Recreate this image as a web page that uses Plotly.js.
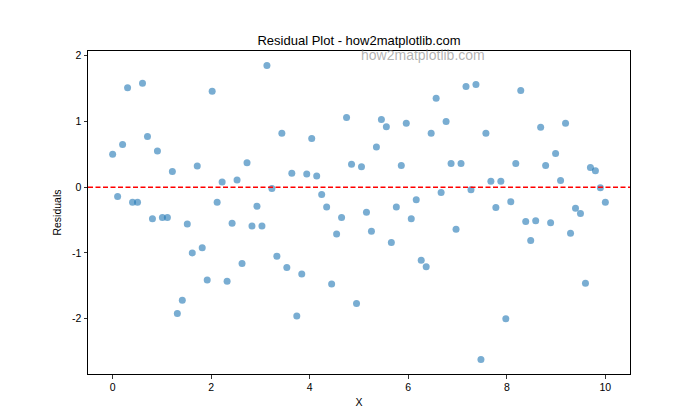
<!DOCTYPE html>
<html>
<head>
<meta charset="utf-8">
<script src="https://cdn.plot.ly/plotly-3.0.1.min.js"></script>
<style>html,body{margin:0;padding:0;background:#fff}#chart{width:700px;height:420px}</style>
</head>
<body>
<div id="chart"></div>
<script>
// X values: 100 evenly spaced sample positions from 0 to 10
const xStart = 0, xEnd = 10, nPoints = 100;
const xValues = Array.from({length: nPoints}, (_, i) => xStart + i * (xEnd - xStart) / (nPoints - 1));

// Residuals
const residuals = [
  0.50, -0.14, 0.65, 1.51, -0.23, -0.23, 1.58, 0.77, -0.48, 0.55,
  -0.46, -0.46, 0.24, -1.92, -1.72, -0.56, -1.00, 0.32, -0.92, -1.41,
  1.46, -0.23, 0.08, -1.43, -0.55, 0.11, -1.16, 0.37, -0.59, -0.29,
  -0.59, 1.85, -0.02, -1.05, 0.82, -1.22, 0.21, -1.96, -1.32, 0.20,
  0.74, 0.17, -0.11, -0.30, -1.47, -0.71, -0.46, 1.06, 0.35, -1.77,
  0.31, -0.38, -0.67, 0.61, 1.03, 0.92, -0.84, -0.30, 0.33, 0.97,
  -0.48, -0.19, -1.11, -1.21, 0.82, 1.35, -0.08, 1.00, 0.36, -0.64,
  0.36, 1.53, -0.04, 1.56, -2.62, 0.82, 0.09, -0.31, 0.09, -2.00,
  -0.22, 0.36, 1.47, -0.52, -0.81, -0.51, 0.91, 0.33, -0.54, 0.51,
  0.10, 0.97, -0.70, -0.32, -0.40, -1.46, 0.30, 0.25, -0.01, -0.23
];

const xTicks = [0, 2, 4, 6, 8, 10];
const yTicks = [-2, -1, 0, 1, 2];
const titleText = "Residual Plot - how2matplotlib.com";
const watermarkText = "how2matplotlib.com";
const xLabel = "X";
const yLabel = "Residuals";
const refLineY = 0;

const FONT = "Liberation Sans, Arial, sans-serif";

const trace = {
  x: xValues,
  y: residuals,
  type: "scatter",
  mode: "markers",
  marker: {color: "#1f77b4", opacity: 0.6, size: 7, line: {width: 0}},
  hoverinfo: "skip",
  showlegend: false
};

const axisCommon = {
  showline: true, mirror: true, linecolor: "#000", linewidth: 1,
  ticks: "outside", ticklen: 3.5, tickwidth: 0.8, tickcolor: "#000",
  showgrid: false, zeroline: false,
  tickfont: {family: FONT, size: 10.5, color: "#000"}
};

const layout = {
  width: 700, height: 420,
  paper_bgcolor: "#fff", plot_bgcolor: "#fff",
  margin: {l: 88, r: 70, t: 51, b: 46},
  font: {family: FONT, color: "#000"},
  title: {text: titleText, x: 0.5, xref: "paper", y: 1, yref: "paper", yanchor: "bottom",
          pad: {b: 6}, font: {family: FONT, size: 13, color: "#000"}},
  xaxis: Object.assign({}, axisCommon, {
    range: [-0.5, 10.5], tickvals: xTicks, ticktext: xTicks.map(String),
    title: {text: xLabel, font: {family: FONT, size: 10.5, color: "#000"}, standoff: 6}
  }),
  yaxis: Object.assign({}, axisCommon, {
    range: [-2.84, 2.07], tickvals: yTicks, ticktext: yTicks.map(v => v < 0 ? "-" + Math.abs(v) : String(v)),
    title: {text: yLabel, font: {family: FONT, size: 10.5, color: "#000"}, standoff: 8}
  }),
  shapes: [{
    type: "line", xref: "paper", x0: 0, x1: 1, yref: "y", y0: refLineY, y1: refLineY,
    line: {color: "red", width: 1.5, dash: "5px,2.5px"}
  }],
  annotations: [{
    text: watermarkText, x: 5, y: 2, xref: "x", yref: "y",
    xanchor: "left", yanchor: "middle", showarrow: false, yshift: 1,
    font: {family: FONT, size: 14, color: "rgba(128,128,128,0.6)"}
  }]
};

Plotly.newPlot("chart", [trace], layout, {displayModeBar: false, staticPlot: true});
</script>
</body>
</html>
